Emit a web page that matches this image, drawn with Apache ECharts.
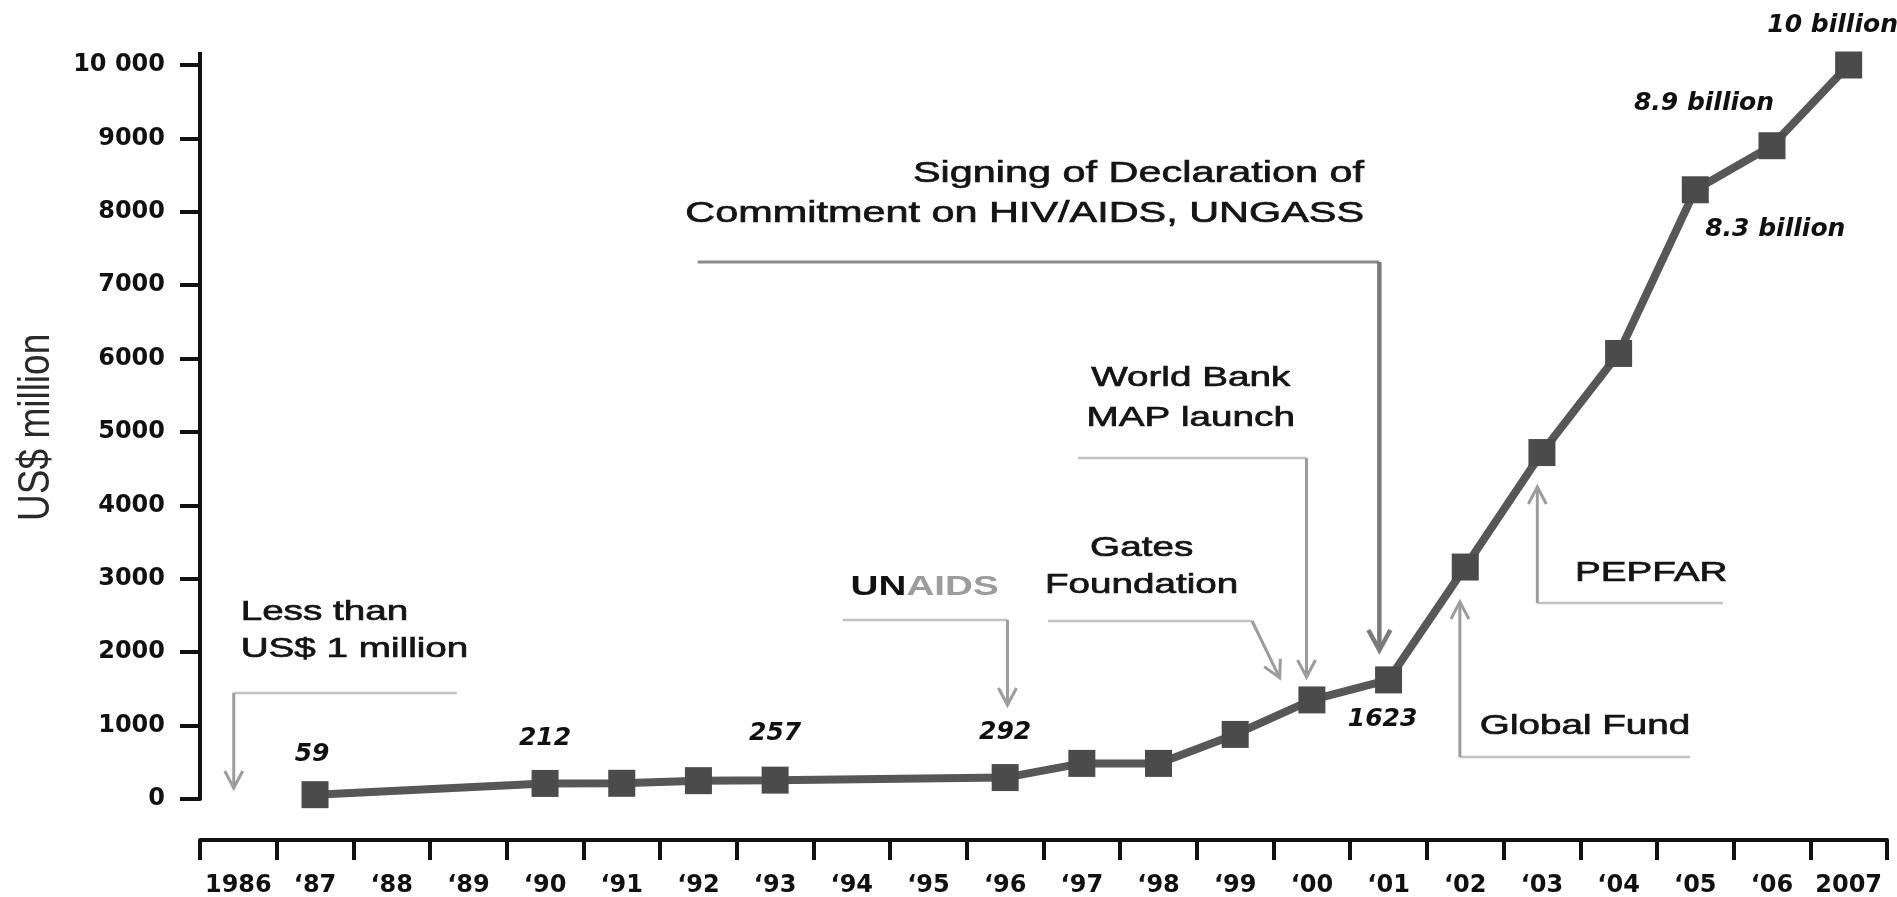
<!DOCTYPE html>
<html>
<head>
<meta charset="utf-8">
<script src="https://cdn.jsdelivr.net/npm/echarts@6/dist/echarts.min.js"></script>
<style>
html,body{margin:0;padding:0;background:#fff;}
#chart{width:1897px;height:897px;}
</style>
</head>
<body>
<div id="chart"></div>
<script>
// ---------- data ----------
const years = ['1986','\u201887','\u201888','\u201889','\u201890','\u201891','\u201892','\u201893','\u201894','\u201895','\u201896','\u201897','\u201898','\u201899','\u201800','\u201801','\u201802','\u201803','\u201804','\u201805','\u201806','2007'];
const fundingUSDm = [null, 59, null, null, 212, 214, 250, 257, null, null, 292, 485, 485, 880, 1350, 1623, 3160, 4720, 6070, 8300, 8900, 10000];
const pointLabels = ['', '59', '', '', '212', '', '', '257', '', '', '292', '', '', '', '', '1623', '', '', '', '8.3 billion', '8.9 billion', '10 billion'];
const yTickValues = [0, 1000, 2000, 3000, 4000, 5000, 6000, 7000, 8000, 9000, 10000];
const yTickLabels = ['0', '1000', '2000', '3000', '4000', '5000', '6000', '7000', '8000', '9000', '10 000'];
const yAxisTitle = 'US$ million';

// ---------- annotation layout (in data space: category index, US$ million) ----------
const labelOffsets = {1: [-3, -40], 4: [0, -45], 7: [0, -47], 10: [0, -45], 15: [-6, 40], 19: [80, 40], 20: [-68, -42], 21: [-16, -40]};

const annotationTexts = [
  {t: 'Less than', at: [0.03, 2548], align: 'left'},
  {t: 'US$ 1 million', at: [0.03, 2044], align: 'left'},
  {t: '{a|UN}{b|AIDS}', at: [8.95, 2888], align: 'center', rich: true},
  {t: 'Gates', at: [11.78, 3420], align: 'center'},
  {t: 'Foundation', at: [11.78, 2916], align: 'center'},
  {t: 'World Bank', at: [12.42, 5736], align: 'center'},
  {t: 'MAP launch', at: [12.42, 5191], align: 'center'},
  {t: 'Signing of Declaration of', at: [14.68, 8515], align: 'right', big: true},
  {t: 'Commitment on HIV/AIDS, UNGASS', at: [14.68, 7970], align: 'right', big: true},
  {t: 'Global Fund', at: [16.19, 995], align: 'left'},
  {t: 'PEPFAR', at: [17.43, 3079], align: 'left'}
];

const annotationArrows = [
  {rule: [[-0.06, 1444], [2.85, 1444]], shaft: [[-0.06, 1444], [-0.06, 150]]},
  {rule: [[7.88, 2439], [10.03, 2439]], shaft: [[10.03, 2439], [10.03, 1281]]},
  {rule: [[10.56, 2425], [13.22, 2425]], shaft: [[13.22, 2425], [13.58, 1649]]},
  {rule: [[10.95, 4646], [13.93, 4646]], shaft: [[13.93, 4646], [13.93, 1662]]},
  {rule: [[5.99, 7316], [14.88, 7316]], shaft: [[14.88, 7316], [14.88, 2030]], dark: true},
  {rule: [[15.93, 572], [18.93, 572]], shaft: [[15.93, 572], [15.93, 2684]]},
  {rule: [[16.94, 2670], [19.36, 2670]], shaft: [[16.94, 2670], [16.94, 4251]]}
];

// ---------- chart ----------
const chart = echarts.init(document.getElementById('chart'), null, {renderer: 'canvas'});

const seriesData = fundingUSDm.map((v, i) => {
  const item = {value: v};
  if (pointLabels[i]) {
    item.label = {show: true, formatter: pointLabels[i], position: 'inside', offset: labelOffsets[i] || [0, -40]};
  }
  return item;
});

const option = {
  backgroundColor: '#ffffff',
  animation: false,
  grid: {left: 200, right: 10, top: 65, bottom: 98, containLabel: false, outerBoundsMode: 'none'},
  xAxis: {
    type: 'category',
    data: years,
    boundaryGap: true,
    offset: 41,
    axisLine: {show: true, onZero: false, lineStyle: {color: '#111', width: 4}},
    axisTick: {show: true, interval: 0, length: 20, lineStyle: {color: '#111', width: 4}},
    axisLabel: {interval: 0, margin: 34, color: '#111', fontFamily: '"DejaVu Sans", sans-serif', fontWeight: 'bold', fontSize: 24},
    splitLine: {show: false}
  },
  yAxis: {
    type: 'value',
    min: yTickValues[0],
    max: yTickValues[yTickValues.length - 1],
    interval: 1000,
    axisLine: {show: true, lineStyle: {color: '#111', width: 4}},
    axisTick: {show: true, length: 20, lineStyle: {color: '#111', width: 4}},
    axisLabel: {
      margin: 35, color: '#111', fontFamily: '"DejaVu Sans", sans-serif', fontWeight: 'bold', fontSize: 24,
      formatter: v => { const k = yTickValues.indexOf(v); return k >= 0 ? yTickLabels[k] : ''; }
    },
    splitLine: {show: false}
  },
  series: [{
    type: 'line',
    data: seriesData,
    connectNulls: true,
    symbol: 'rect',
    symbolSize: 27,
    showAllSymbol: true,
    lineStyle: {color: '#575757', width: 8},
    itemStyle: {color: '#4b4b4b'},
    label: {
      show: false,
      color: '#111',
      fontFamily: '"DejaVu Sans", sans-serif',
      fontWeight: 'bold',
      fontStyle: 'italic',
      fontSize: 25
    },
    emphasis: {disabled: true},
    z: 5
  }]
};
chart.setOption(option);

// ---------- annotations drawn through the axes' own scales ----------
function px(i, v) {
  const a = chart.convertToPixel({gridIndex: 0}, [0, v]);
  const b = chart.convertToPixel({gridIndex: 0}, [1, v]);
  return [a[0] + i * (b[0] - a[0]), a[1]];
}

const graphics = [];
const TEXT_FAMILY = '"Liberation Sans", Arial, Helvetica, sans-serif';
const STRETCH = 1.38;

annotationTexts.forEach(a => {
  const p = px(a.at[0], a.at[1]);
  const size = a.big ? 30 : 28;
  const style = {
    text: a.t,
    fill: '#141414',
    stroke: '#141414',
    lineWidth: 0.7,
    fontFamily: TEXT_FAMILY,
    fontSize: size,
    align: a.align,
    verticalAlign: 'middle'
  };
  if (a.rich) {
    style.stroke = null;
    style.lineWidth = 0;
    style.rich = {
      a: {fill: '#111', fontFamily: TEXT_FAMILY, fontSize: size, fontWeight: 'bold'},
      b: {fill: '#9c9c9c', fontFamily: TEXT_FAMILY, fontSize: size, fontWeight: 'bold'}
    };
  }
  graphics.push({type: 'text', x: p[0], y: p[1], scaleX: STRETCH, scaleY: 1, style: style, z: 10, silent: true});
});

annotationArrows.forEach(a => {
  const r = a.rule.map(q => px(q[0], q[1]));
  const s = a.shaft.map(q => px(q[0], q[1]));
  graphics.push({type: 'polyline', shape: {points: r}, style: {stroke: a.dark ? '#8a8a8a' : '#c2c2c2', lineWidth: a.dark ? 3 : 2.5, fill: null}, z: 3, silent: true});
  graphics.push({type: 'polyline', shape: {points: s}, style: {stroke: a.dark ? '#7a7a7a' : '#9c9c9c', lineWidth: a.dark ? 4.5 : 3, fill: null}, z: 3, silent: true});
  const tip = s[s.length - 1], prev = s[s.length - 2];
  let dx = tip[0] - prev[0], dy = tip[1] - prev[1];
  const len = Math.hypot(dx, dy); dx /= len; dy /= len;
  const L = a.dark ? 20 : 17, W = a.dark ? 11 : 9;
  const w1 = [tip[0] - L * dx - W * dy, tip[1] - L * dy + W * dx];
  const w2 = [tip[0] - L * dx + W * dy, tip[1] - L * dy - W * dx];
  graphics.push({type: 'polyline', shape: {points: [w1, tip, w2]}, style: {stroke: a.dark ? '#7a7a7a' : '#9c9c9c', lineWidth: a.dark ? 4.5 : 3, fill: null, lineJoin: 'miter'}, z: 3, silent: true});
});

// small extension of the y axis line above the top tick
const axisTopPx = px(0, yTickValues[yTickValues.length - 1]);
const axisLeftX = px(-0.5, 0)[0];
graphics.push({type: 'line', shape: {x1: axisLeftX, y1: axisTopPx[1] + 2, x2: axisLeftX, y2: axisTopPx[1] - 13}, style: {stroke: '#111', lineWidth: 4}, z: 4, silent: true});

// y-axis title, rotated and stretched like the original
const titleMid = px(0, 5200);
graphics.push({
  type: 'text', x: 37, y: titleMid[1] + 10, rotation: Math.PI / 2, scaleX: 1, scaleY: 1.2,
  style: {text: yAxisTitle, fill: '#2a2a2a', fontFamily: TEXT_FAMILY, fontSize: 37, align: 'center', verticalAlign: 'middle'},
  z: 10, silent: true
});

chart.setOption({graphic: graphics});
</script>
</body>
</html>
